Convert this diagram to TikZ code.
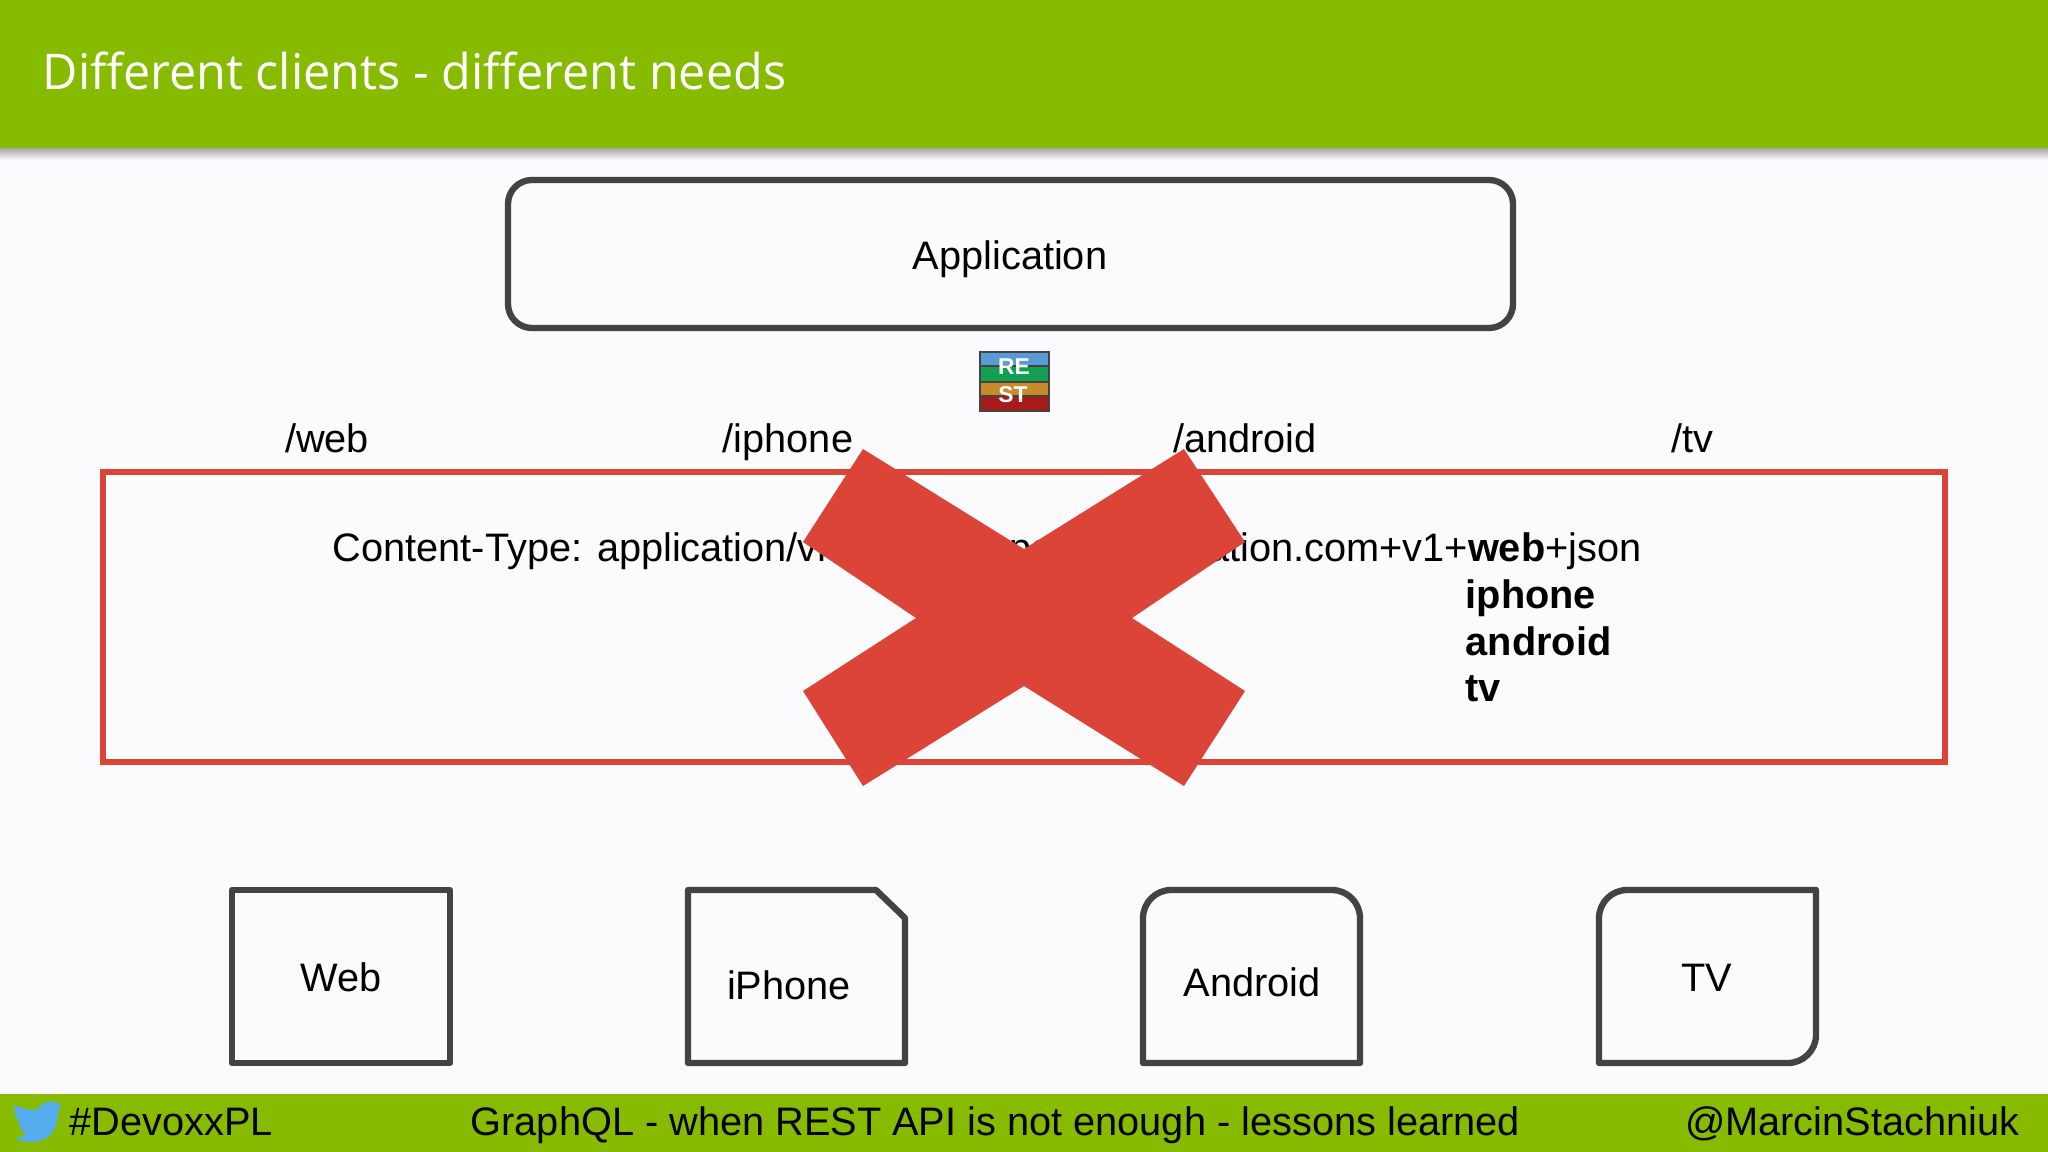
\documentclass[tikz,border=0pt]{standalone}
\usepackage{fontspec}
\setmainfont{Liberation Sans}
\newfontfamily\titlefont[FakeStretch=0.985]{Open Sans}
\definecolor{barGreen}{HTML}{86BB00}
\definecolor{paper}{HTML}{FBFAFD}
\definecolor{crossRed}{HTML}{DB4437}
\definecolor{boxGrey}{HTML}{434343}
\definecolor{restBlue}{HTML}{5B9BD5}
\definecolor{restGreen}{HTML}{12A150}
\definecolor{restOrange}{HTML}{C98A2B}
\definecolor{restRed}{HTML}{A91B1B}
\definecolor{birdBlue}{HTML}{55ACEE}
\tikzset{
    label/.style={inner sep=0pt, anchor=base, text=black, font=\fontsize{11.3}{13}\selectfont},
    boldlabel/.style={label, anchor=base west, font=\fontsize{11.3}{13}\selectfont\bfseries},
    client/.style={draw=boxGrey, line width=1.8pt, line join=round},
    rest/.style={inner sep=0pt, text=white, font=\fontsize{6.5}{8}\selectfont\bfseries}
}
\begin{document}
\begin{tikzpicture}[x=0.01cm, y=-0.01cm]
    \useasboundingbox (0,0) rectangle (2048,1152);
    \fill[paper] (0,0) rectangle (2048,1152);
    \shade[top color=black!35, bottom color=paper] (0,148) rectangle (2048,160);
    \fill[barGreen] (0,0) rectangle (2048,148);
    \fill[barGreen] (0,1094) rectangle (2048,1152);
    \node[anchor=base west, inner sep=0pt, text=white, font=\titlefont\fontsize{14}{16}\selectfont] (title) at (42,90) {Different clients - different needs};
    \draw[client, rounded corners=6.8pt] (508,180) rectangle (1513,328);
    \node[label] (application) at (1010,270) {Application};
    \fill[restBlue] (980,352) rectangle (1049,366);
    \fill[restGreen] (980,366) rectangle (1049,382);
    \fill[restOrange] (980,382) rectangle (1049,396);
    \fill[restRed] (980,396) rectangle (1049,411);
    \draw[boxGrey, line width=0.4pt] (980,352) rectangle (1049,411) (980,366) -- (1049,366) (980,382) -- (1049,382) (980,396) -- (1049,396);
    \node[rest] (re) at (1014,367) {RE};
    \node[rest] (st) at (1013,395) {ST};
    \node[label] (web) at (327,453) {/web};
    \node[label] (iphone) at (788,453) {/iphone};
    \node[label] (android) at (1245,453) {/android};
    \node[label] (tv) at (1692,453) {/tv};
    \draw[crossRed, line width=1.7pt] (103,472) rectangle (1945,762);
    \node[label, anchor=base west] (content) at (332,562) {Content-Type: application/vnd.my.company.application.com+v1+\textbf{web}+json};
    \node[boldlabel] (iphonetype) at (1465,609) {iphone};
    \node[boldlabel] (androidtype) at (1465,656) {android};
    \node[boldlabel] (tvtype) at (1465,702) {tv};
    \fill[crossRed] (863,449) -- (1024,549) -- (1184,449) -- (1245,542) -- (1132,618) -- (1245,691) -- (1184,786) -- (1024,686) -- (863,786) -- (803,691) -- (916,618) -- (803,542) -- cycle;
    \draw[client] (232,890) rectangle (450,1063);
    \node[label] (webbox) at (341,991) {Web};
    \draw[client] (688,890) -- (876,890) -- (905,918) -- (905,1063) -- (688,1063) -- cycle;
    \node[label] (iphonebox) at (789,999) {iPhone};
    \draw[client] (1143,1063) [rounded corners=8pt] -- (1143,890) -- (1360,890) [sharp corners] -- (1360,1063) -- cycle;
    \node[label] (androidbox) at (1252,996) {Android};
    \draw[client] (1599,1063) [rounded corners=8pt] -- (1599,890) [sharp corners] -- (1816,890) [rounded corners=8pt] -- (1816,1063) [sharp corners] -- cycle;
    \node[label] (tvbox) at (1707,991) {TV};
    \fill[birdBlue] (61,1105) .. controls (56,1101) and (44,1098) .. (37,1110) .. controls (28,1110) and (20,1108) .. (14,1105) .. controls (14,1112) and (16,1118) .. (19,1122) .. controls (19,1127) and (22,1132) .. (26,1134) .. controls (23,1136) and (19,1138) .. (15,1138) .. controls (30,1146) and (58,1144) .. (58,1112) -- cycle;
    \node[label, anchor=base west] (tag) at (69,1135) {\#DevoxxPL};
    \node[label, anchor=base west] (talk) at (470,1135) {GraphQL - when REST API is not enough - lessons learned};
    \node[label, anchor=base east] (handle) at (2020,1135) {@MarcinStachniuk};
\end{tikzpicture}
\end{document}
